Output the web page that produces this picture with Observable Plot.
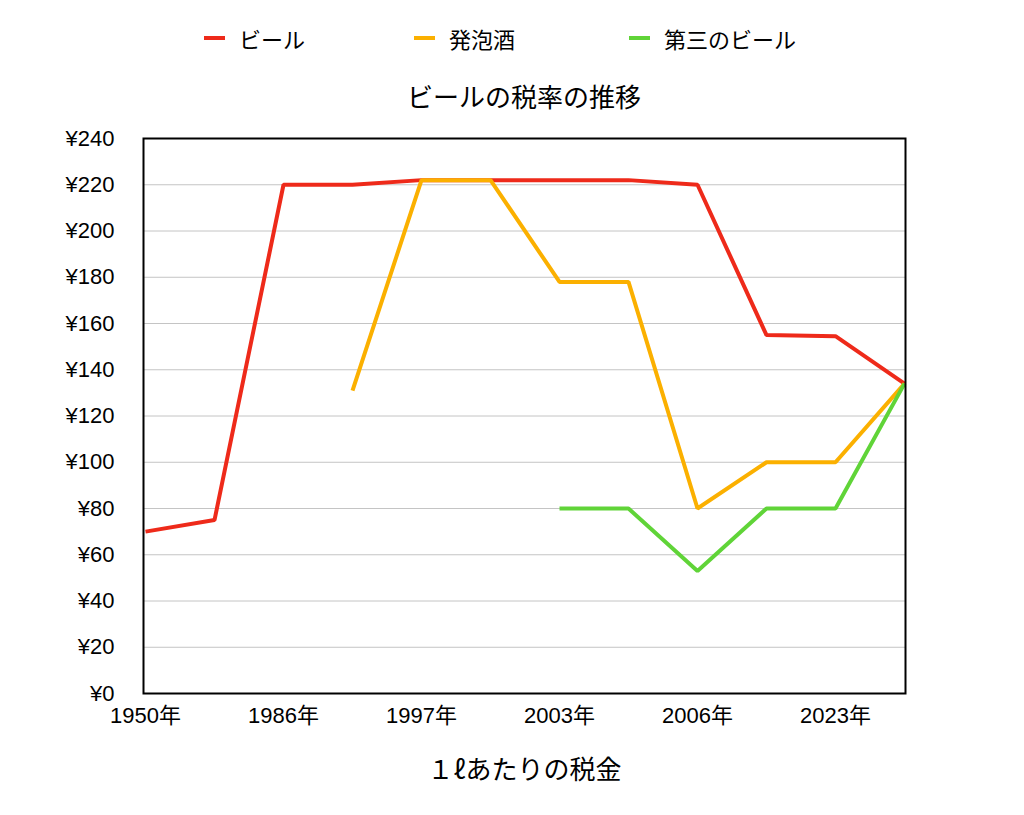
<!DOCTYPE html>
<html>
<head>
<meta charset="utf-8">
<script src="https://cdn.jsdelivr.net/npm/d3@7"></script>
<script src="https://cdn.jsdelivr.net/npm/@observablehq/plot@0.6"></script>
<style>
  html, body { margin: 0; padding: 0; background: #fff; }
  body { width: 1024px; height: 815px; position: relative; overflow: hidden;
         font-family: "Liberation Sans", "Noto Sans CJK JP", sans-serif; color: #000; }
  #legend { position: absolute; left: 0; top: 0; width: 1024px; height: 80px; }
  .item { position: absolute; top: 24px; height: 28px; display: flex; align-items: center;
          font-size: 22px; font-family: "Noto Sans CJK JP", sans-serif; }
  .sw { width: 21px; height: 4px; margin-right: 14px; }
  #title { position: absolute; left: 143px; width: 762px; top: 78px; height: 40px;
           text-align: center; font-size: 26px; line-height: 36px;
           font-family: "Noto Sans CJK JP", sans-serif; }
  #chart { position: absolute; left: 0; top: 120px; }
</style>
</head>
<body>
<div id="legend"></div>
<div id="title"></div>
<div id="chart"></div>
<script>
const categories = ["1950年","1953年","1986年","1994年","1997年","2000年","2003年","2004年","2006年","2020年","2023年","2026年"];
const xTickLabels = ["1950年","1986年","1997年","2003年","2006年","2023年"];
const seriesNames = ["ビール","発泡酒","第三のビール"];
const seriesColors = ["#ee2a1a","#fbb000","#60d438"];
const beer      = [70, 75, 220, 220, 222, 222, 222, 222, 220, 155, 154.5, 134];
const happoshu  = [null, null, null, 131, 222, 222, 178, 178, 80, 100, 100, 134];
const thirdBeer = [null, null, null, null, null, null, 80, 80, 53, 80, 80, 134];
const yTicks = [0,20,40,60,80,100,120,140,160,180,200,220,240];
const titleText = "ビールの税率の推移";
const xAxisLabel = "１ℓあたりの税金";

const seriesValues = [beer, happoshu, thirdBeer];
const data = [];
seriesNames.forEach((s, i) => {
  categories.forEach((c, j) => {
    data.push({series: s, year: c, value: seriesValues[i][j]});
  });
});

// legend
const legend = document.getElementById("legend");
const legendLefts = [204, 414, 629];
seriesNames.forEach((s, i) => {
  const it = document.createElement("div");
  it.className = "item";
  it.style.left = legendLefts[i] + "px";
  const sw = document.createElement("span");
  sw.className = "sw";
  sw.style.background = seriesColors[i];
  const tx = document.createElement("span");
  tx.textContent = s;
  it.appendChild(sw); it.appendChild(tx);
  legend.appendChild(it);
});
document.getElementById("title").textContent = titleText;

const chart = Plot.plot({
  width: 1024,
  height: 695,
  marginLeft: 143,
  marginRight: 119,
  marginTop: 18,
  marginBottom: 122,
  style: {fontFamily: "'Liberation Sans', 'Noto Sans CJK JP', sans-serif", background: "white", color: "black"},
  x: {type: "point", domain: categories, padding: 0, label: null},
  y: {domain: [0, 240], label: null},
  color: {domain: seriesNames, range: seriesColors},
  marks: [
    Plot.gridY(yTicks, {stroke: "#c4c4c4", strokeOpacity: 1, strokeWidth: 1}),
    Plot.line(data.filter(d => d.value != null), {x: "year", y: "value", z: "series", stroke: "series", strokeWidth: 4, strokeLinejoin: "miter", strokeLinecap: "butt"}),
    Plot.frame({stroke: "black", strokeWidth: 2}),
    Plot.axisY(yTicks, {tickSize: 0, tickPadding: 29, tickFormat: d => "¥" + d, fontSize: 22, label: null}),
    Plot.axisX(xTickLabels, {tickSize: 0, tickPadding: 14, fontSize: 22, label: null}),
    Plot.text([xAxisLabel], {frameAnchor: "bottom", dy: 85, fontSize: 26, fontFamily: "'Noto Sans CJK JP', sans-serif", fill: "black"})
  ]
});
document.getElementById("chart").appendChild(chart);
</script>
</body>
</html>
